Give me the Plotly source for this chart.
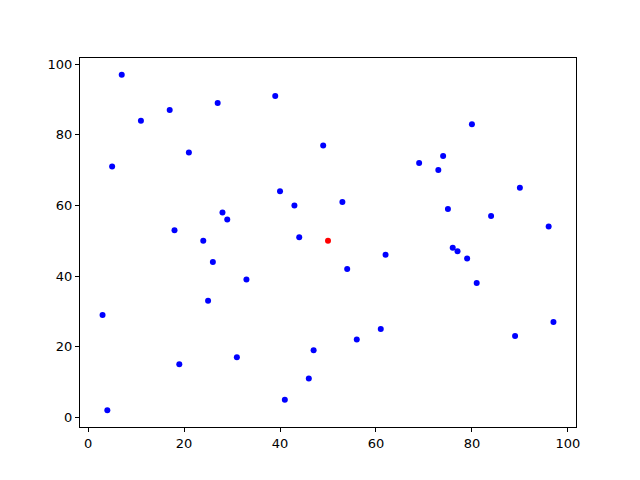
import plotly.graph_objects as go

xs = [7, 11, 17, 27, 39, 21, 49, 5, 80, 69, 73, 74, 40, 90, 53, 43, 28, 29, 75, 84,
      18, 24, 44, 96, 76, 77, 79, 62, 26, 54, 33, 81, 25, 3, 61, 97, 56, 89, 19, 31,
      47, 46, 41, 4]
ys = [97, 84, 87, 89, 91, 75, 77, 71, 83, 72, 70, 74, 64, 65, 61, 60, 58, 56, 59, 57,
      53, 50, 51, 54, 48, 47, 45, 46, 44, 42, 39, 38, 33, 29, 25, 27, 22, 23, 15, 17,
      19, 11, 5, 2]
red_x = [50]
red_y = [50]
ticks = [0, 20, 40, 60, 80, 100]

fig = go.Figure()
fig.add_trace(go.Scatter(x=xs, y=ys, mode="markers",
                         marker=dict(color="blue", size=6, line=dict(width=0))))
fig.add_trace(go.Scatter(x=red_x, y=red_y, mode="markers",
                         marker=dict(color="red", size=6, line=dict(width=0))))

axis_common = dict(showgrid=False, zeroline=False, showline=True, linecolor="black",
                   linewidth=1, mirror=True, ticks="outside", ticklen=4, tickwidth=1,
                   tickcolor="black", tickvals=ticks,
                   tickfont=dict(family="DejaVu Sans", size=13, color="black"))
fig.update_xaxes(range=[-1.7, 101.7], **axis_common)
fig.update_yaxes(range=[-2.75, 101.75], **axis_common)
# page body has an 8px default margin, so the figure is drawn 8px in from the corner
fig.update_layout(width=632, height=472, showlegend=False,
                  margin=dict(l=72, r=64, t=50, b=53),
                  plot_bgcolor="white", paper_bgcolor="white")
fig.write_html("out.html")
